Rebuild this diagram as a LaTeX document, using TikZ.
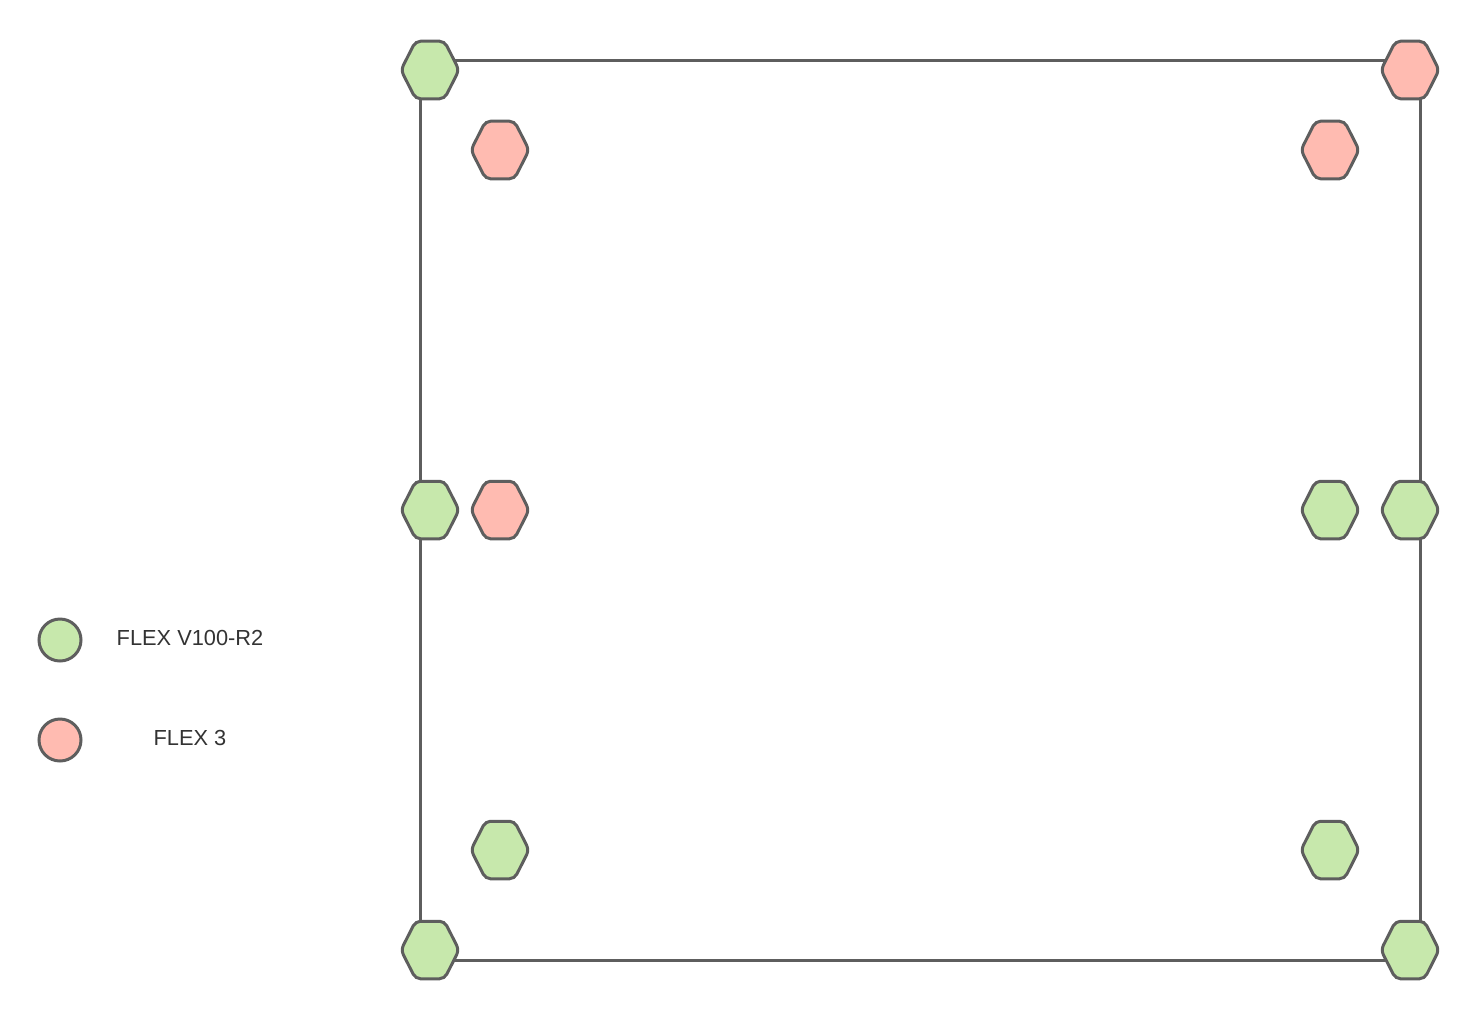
\documentclass[tikz,border=0pt]{standalone}
\usepackage{fontspec}
\setmainfont{Liberation Sans}
\usetikzlibrary{shapes.geometric}
\definecolor{flexgreen}{HTML}{C7E8AC}
\definecolor{flexred}{HTML}{FFBBB1}
\definecolor{edgegray}{HTML}{5E5E5E}
\definecolor{textgray}{HTML}{333333}

\begin{document}
\begin{tikzpicture}[x=1pt, y=-1pt,
    frame/.style={draw=edgegray, line width=3pt},
    hex/.style={regular polygon, regular polygon sides=6, minimum size=58pt,
        inner sep=0pt, draw=edgegray, line width=3pt, rounded corners=5pt,
        yscale=1.145, transform shape},
    v100/.style={hex, fill=flexgreen},
    flexthree/.style={hex, fill=flexred},
    legendmark/.style={circle, minimum size=42pt, inner sep=0pt,
        draw=edgegray, line width=3pt},
    legendtext/.style={text=textgray, font=\fontsize{21.8}{24}\selectfont}]
    \useasboundingbox (0,0) rectangle (1480,1020);
    % outline of the frame
    \coordinate (tl) at (420,60);
    \coordinate (tr) at (1420,60);
    \coordinate (br) at (1420,960);
    \coordinate (bl) at (420,960);
    \draw[frame] (tl) -- (tr) -- (br) -- (bl) -- cycle;
    % corner and side units
    \node[v100] (ctl) at (430,70) {};
    \node[flexthree] (ctr) at (1410,70) {};
    \node[v100] (cbl) at (430,950) {};
    \node[v100] (cbr) at (1410,950) {};
    \node[v100] (ml) at (430,510) {};
    \node[v100] (mr) at (1410,510) {};
    % inner units
    \node[flexthree] (itl) at (500,150) {};
    \node[flexthree] (itr) at (1330,150) {};
    \node[flexthree] (iml) at (500,510) {};
    \node[v100] (imr) at (1330,510) {};
    \node[v100] (ibl) at (500,850) {};
    \node[v100] (ibr) at (1330,850) {};
    % legend
    \node[legendmark, fill=flexgreen] (keyv100) at (60,640) {};
    \node[legendtext] (labv100) at (190,638) {FLEX V100-R2};
    \node[legendmark, fill=flexred] (keyflex3) at (60,740) {};
    \node[legendtext] (labflex3) at (190,738) {FLEX 3};
\end{tikzpicture}
\end{document}
